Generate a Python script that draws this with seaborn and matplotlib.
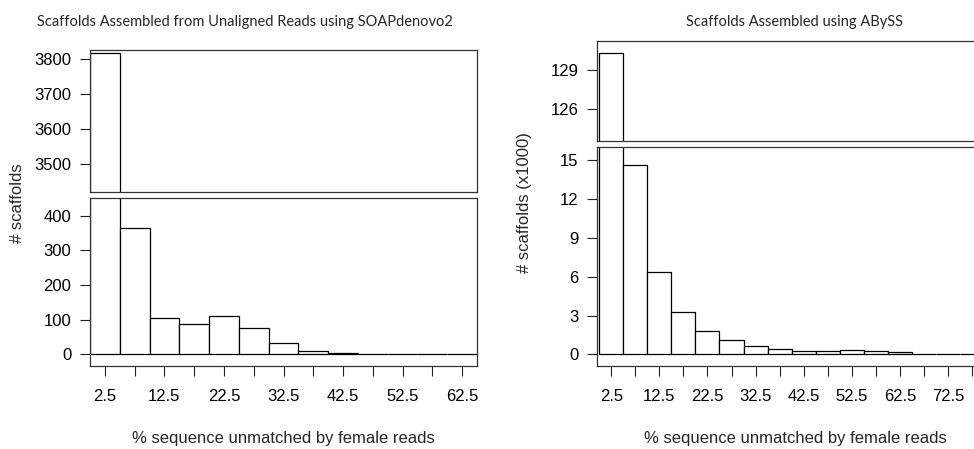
import matplotlib
matplotlib.use('Agg')
import matplotlib.pyplot as plt
import seaborn as sns

# bin centres (% sequence unmatched) and scaffold counts per bin
soap_mid = [2.5, 7.5, 12.5, 17.5, 22.5, 27.5, 32.5, 37.5, 42.5, 47.5, 52.5, 57.5, 62.5]
soap_counts = [3819, 365, 104, 88, 111, 76, 32, 9, 3, 0, 0, 0, 1]

abyss_mid = [2.5, 7.5, 12.5, 17.5, 22.5, 27.5, 32.5, 37.5, 42.5, 47.5,
             52.5, 57.5, 62.5, 67.5, 72.5, 77.5]
abyss_counts_k = [130.3, 14.6, 6.33, 3.24, 1.82, 1.08, 0.66, 0.38, 0.28, 0.23,
                  0.33, 0.26, 0.15, 0.04, 0.02, 0.01]

soap_xlabels = ['2.5', '', '12.5', '', '22.5', '', '32.5', '', '42.5', '', '52.5', '', '62.5']
abyss_xlabels = ['2.5', '', '12.5', '', '22.5', '', '32.5', '', '42.5', '', '52.5',
                 '', '62.5', '', '72.5', '']

sns.set_style('ticks')
plt.rcParams['font.family'] = ['Liberation Sans', 'DejaVu Sans']

W, H = 974, 449
fig = plt.figure(figsize=(W / 100, H / 100), dpi=100)


def box(x0, y0, x1, y1):
    # pixel box -> figure fraction
    return [x0 / W, 1 - y1 / H, (x1 - x0) / W, (y1 - y0) / H]


def draw(ax, mid, counts, brange):
    sns.histplot(x=mid, weights=counts, binwidth=5, binrange=brange, ax=ax,
                 color='white', edgecolor='black', linewidth=0.9, alpha=1)
    ax.set_xlabel('')
    ax.set_ylabel('')
    for s in ax.spines.values():
        s.set_visible(True)
        s.set_color('#333333')
        s.set_linewidth(0.9)
    ax.tick_params(axis='both', direction='out', length=7.5, width=0.8,
                   colors='#222222', labelsize=12, pad=6, labelcolor='black')


# left: SOAPdenovo2
ax_lt = fig.add_axes(box(90, 50, 477, 192))
ax_lb = fig.add_axes(box(90, 198, 477, 366))
for ax in (ax_lt, ax_lb):
    draw(ax, soap_mid, soap_counts, (0, 65))
    ax.set_xlim(0, 65)
ax_lt.set_ylim(3419, 3827)
ax_lt.set_yticks([3500, 3600, 3700, 3800])
ax_lt.set_xticks([])
ax_lb.set_ylim(-34, 451)
ax_lb.set_yticks([0, 100, 200, 300, 400])
ax_lb.set_xticks(soap_mid)
ax_lb.set_xticklabels(soap_xlabels)
ax_lb.tick_params(axis='x', pad=9)

# right: ABySS
ax_rt = fig.add_axes(box(597, 41, 987, 141))
ax_rb = fig.add_axes(box(597, 147, 987, 366))
for ax in (ax_rt, ax_rb):
    draw(ax, abyss_mid, abyss_counts_k, (0, 80))
    ax.set_xlim(-0.46, 80.6)
ax_rt.set_ylim(123.56, 131.2)
ax_rt.set_yticks([126, 129])
ax_rt.set_xticks([])
ax_rb.set_ylim(-0.9, 16.03)
ax_rb.set_yticks([0, 3, 6, 9, 12, 15])
ax_rb.set_xticks(abyss_mid)
ax_rb.set_xticklabels(abyss_xlabels)
ax_rb.tick_params(axis='x', pad=9)

title_font = ['Lato', 'DejaVu Sans']
fig.text(245 / W, 1 - 22 / H, 'Scaffolds Assembled from Unaligned Reads using SOAPdenovo2',
         ha='center', va='center', fontsize=10.5, family=title_font)
fig.text(794 / W, 1 - 22 / H, 'Scaffolds Assembled using ABySS',
         ha='center', va='center', fontsize=10.5, family=title_font)

fig.text(283 / W, 1 - 438 / H, '% sequence unmatched by female reads',
         ha='center', va='center', fontsize=12)
fig.text(795 / W, 1 - 438 / H, '% sequence unmatched by female reads',
         ha='center', va='center', fontsize=12)
fig.text(18 / W, 1 - 203 / H, '# scaffolds', rotation=90,
         ha='center', va='center', fontsize=12)
fig.text(525 / W, 1 - 203 / H, '# scaffolds (x1000)', rotation=90,
         ha='center', va='center', fontsize=12)

fig.savefig('out.png', dpi=100)
